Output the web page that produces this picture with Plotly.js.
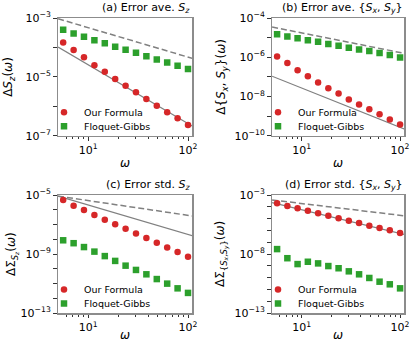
<!DOCTYPE html>
<html>
<head>
<meta charset="utf-8">
<script src="https://cdn.plot.ly/plotly-3.0.1.min.js"></script>
<style>
  html, body { margin: 0; padding: 0; background: #fff; }
  #chart { width: 415px; height: 342px; }
</style>
</head>
<body>
<div id="chart"></div>
<script>
// frequencies (shared by all panels)
const omega = [5.62, 7.15, 9.08, 11.55, 14.68, 18.65, 23.71, 30.13, 38.3, 48.68, 61.87, 78.64, 100];
const guideOmega = [5, 110];

// (a) Error ave. Sz
const formulaA = [1.48e-4, 8.1e-5, 4.6e-5, 2.5e-5, 1.48e-5, 8.5e-6, 5.0e-6, 3.0e-6, 1.78e-6, 1.05e-6, 6.3e-7, 3.9e-7, 2.3e-7];
const gibbsA = [4.0e-4, 3.0e-4, 2.3e-4, 1.74e-4, 1.38e-4, 1.05e-4, 8.3e-5, 6.6e-5, 5.0e-5, 3.9e-5, 3.1e-5, 2.4e-5, 1.86e-5];
const dashA = [9.4e-4, 4.27e-5];
const solidA = [1.03e-4, 2.13e-7];

// (b) Error ave. {Sx, Sy}
const formulaB = [1.1e-6, 5.1e-7, 2.2e-7, 1.07e-7, 5.2e-8, 2.6e-8, 1.4e-8, 7.1e-9, 3.9e-9, 2.2e-9, 1.23e-9, 6.6e-10, 3.7e-10];
const gibbsB = [1.5e-5, 1.13e-5, 9.3e-6, 7.4e-6, 6.1e-6, 4.7e-6, 3.8e-6, 3.0e-6, 2.5e-6, 2.06e-6, 1.62e-6, 1.29e-6, 9.8e-7];
const dashB = [3.48e-5, 1.58e-6];
const solidB = [1.08e-7, 2.23e-10];

// (c) Error std. Sz
const formulaC = [4.6e-6, 1.86e-6, 9.5e-7, 4.4e-7, 2.1e-7, 1.02e-7, 5.2e-8, 2.5e-8, 1.2e-8, 5.9e-9, 2.8e-9, 1.38e-9, 6.6e-10];
const gibbsC = [8.5e-9, 5.4e-9, 2.95e-9, 1.45e-9, 7.2e-10, 3.4e-10, 1.62e-10, 8.3e-11, 4.2e-11, 2.0e-11, 9.8e-12, 4.7e-12, 2.3e-12];
const dashC = [8.4e-6, 3.8e-7];
const solidC = [8.4e-6, 1.74e-8];

// (d) Error std. {Sx, Sy}
const formulaD = [2.0e-4, 1.17e-4, 7.4e-5, 4.7e-5, 2.8e-5, 1.78e-5, 1.07e-5, 6.6e-6, 4.3e-6, 2.5e-6, 1.58e-6, 1.02e-6, 6.0e-7];
const gibbsD = [2.6e-8, 4.4e-9, 1.4e-9, 2.2e-9, 1.6e-9, 9.5e-10, 6.2e-10, 3.4e-10, 1.9e-10, 9.3e-11, 4.5e-11, 2.7e-11, 1.23e-11];
const dashD = [3.8e-4, 1.73e-5];
const solidD = [2.24e-4, 4.6e-7];

const xTickVals = [10, 100];
const xTickText = ['10<sup>1</sup>', '10<sup>2</sup>'];
const xMinorVals = [6, 7, 8, 9, 20, 30, 40, 50, 60, 70, 80, 90];

const RED = '#d62728';
const GREEN = '#2ca02c';
const GREY = '#808080';
const FONT = 'DejaVu Sans, sans-serif';

function decades(lo, hi, labelled) {
  const vals = [], text = [];
  for (let e = lo; e <= hi; e++) {
    vals.push(Math.pow(10, e));
    text.push(labelled.includes(e) ? '10<sup>' + (e < 0 ? '\u2212' + (-e) : e) + '</sup>' : '');
  }
  return { vals, text };
}

const panels = [
  { f: formulaA, g: gibbsA, dash: dashA, solid: solidA, yr: [-7, -3], lab: [-7, -5, -3],
    title: '(a) Error ave. <i>S</i><sub><i>z</i></sub>',
    ytitle: '\u0394<i>S</i><sub><i>z</i></sub>(<i>\u03c9</i>)' },
  { f: formulaB, g: gibbsB, dash: dashB, solid: solidB, yr: [-10, -4], lab: [-10, -8, -6, -4],
    title: '(b) Error ave. {<i>S</i><sub><i>x</i></sub>, <i>S</i><sub><i>y</i></sub>}',
    ytitle: '\u0394{<i>S</i><sub><i>x</i></sub>, <i>S</i><sub><i>y</i></sub>}(<i>\u03c9</i>)' },
  { f: formulaC, g: gibbsC, dash: dashC, solid: solidC, yr: [-13, -5], lab: [-13, -9, -5],
    title: '(c) Error std. <i>S</i><sub><i>z</i></sub>',
    ytitle: '\u0394\u03a3<sub><i>S<sub>z</sub></i></sub>(<i>\u03c9</i>)' },
  { f: formulaD, g: gibbsD, dash: dashD, solid: solidD, yr: [-13, -3], lab: [-13, -8, -3],
    title: '(d) Error std. {<i>S</i><sub><i>x</i></sub>, <i>S</i><sub><i>y</i></sub>}',
    ytitle: '\u0394\u03a3<sub>{<i>S<sub>x</sub></i>,<i>S<sub>y</sub></i>}</sub>(<i>\u03c9</i>)' },
];

// pixel boxes of the four panels in the 415x342 figure
const W = 415, H = 342;
const boxes = [
  { l: 58, r: 192, t: 18, b: 135.7, yt: 9 },
  { l: 272, r: 404, t: 18, b: 135.7, yt: 222 },
  { l: 58, r: 192, t: 195, b: 313, yt: 12 },
  { l: 272, r: 404, t: 195, b: 313, yt: 221 },
];

const traces = [];
const layout = {
  width: W, height: H,
  margin: { l: 0, r: 0, t: 0, b: 0 },
  paper_bgcolor: '#fff', plot_bgcolor: '#fff',
  font: { family: FONT, size: 11, color: '#000' },
  annotations: [],
};

function legendBox(bx, fromBottom) {
  return {
    x: (bx.l - 14) / W, y: 1 - (bx.b - fromBottom) / H, xanchor: 'left', yanchor: 'middle',
    xref: 'paper', yref: 'paper',
    bgcolor: 'rgba(0,0,0,0)', borderwidth: 0,
    font: { family: FONT, size: 9.5 },
    itemwidth: 30,
  };
}

panels.forEach((p, i) => {
  const n = i === 0 ? '' : String(i + 1);
  const xa = 'x' + n, ya = 'y' + n;
  const legF = 'legend' + (2 * i === 0 ? '' : 2 * i + 1);
  const legG = 'legend' + (2 * i + 2);
  const bx = boxes[i];

  traces.push({
    x: guideOmega, y: p.dash, xaxis: xa, yaxis: ya, mode: 'lines', showlegend: false,
    line: { color: GREY, width: 1.5, dash: '6px,3px' }, hoverinfo: 'skip',
  });
  traces.push({
    x: guideOmega, y: p.solid, xaxis: xa, yaxis: ya, mode: 'lines', showlegend: false,
    line: { color: GREY, width: 1.2 }, hoverinfo: 'skip',
  });
  traces.push({
    x: omega, y: p.f, xaxis: xa, yaxis: ya, mode: 'markers', name: 'Our Formula', legend: legF,
    marker: { symbol: 'circle', size: 6.5, color: RED },
  });
  traces.push({
    x: omega, y: p.g, xaxis: xa, yaxis: ya, mode: 'markers', name: 'Floquet-Gibbs', legend: legG,
    marker: { symbol: 'square', size: 6.5, color: GREEN },
  });

  const yt = decades(p.yr[0], p.yr[1], p.lab);
  const axisCommon = {
    type: 'log', showgrid: false, zeroline: false,
    showline: true, mirror: true, linecolor: '#8c8c8c', linewidth: 1.5,
    ticks: 'outside', ticklen: 3.5, tickwidth: 1, tickcolor: '#333',
    tickfont: { family: FONT, size: 11 },
  };
  layout['xaxis' + n] = {
    ...axisCommon,
    anchor: ya,
    domain: [bx.l / W, bx.r / W],
    range: [0.698, 2.04],
    tickmode: 'array', tickvals: xTickVals, ticktext: xTickText,
    minor: { tickmode: 'array', tickvals: xMinorVals, ticks: 'outside', ticklen: 2, tickcolor: '#333', showgrid: false },
    title: { text: '<i>\u03c9</i>', font: { family: FONT, size: 12 }, standoff: 2 },
  };
  layout['yaxis' + n] = {
    ...axisCommon,
    anchor: xa,
    domain: [1 - bx.b / H, 1 - bx.t / H],
    range: p.yr,
    tickmode: 'array', tickvals: yt.vals, ticktext: yt.text,
  };
  layout[legF] = legendBox(bx, 23.5);
  layout[legG] = legendBox(bx, 9.5);
  layout.annotations.push({
    text: p.title, xref: 'paper', yref: 'paper',
    x: bx.r / W, y: 1 - (bx.t - 1) / H, xanchor: 'right', yanchor: 'bottom',
    showarrow: false, font: { family: FONT, size: 11 },
  });
  layout.annotations.push({
    text: p.ytitle, xref: 'paper', yref: 'paper',
    x: bx.yt / W, y: 1 - (bx.t + bx.b) / 2 / H, xanchor: 'center', yanchor: 'middle',
    textangle: -90, showarrow: false, font: { family: FONT, size: 12 },
  });
});

Plotly.newPlot('chart', traces, layout, { staticPlot: true });
</script>
</body>
</html>
